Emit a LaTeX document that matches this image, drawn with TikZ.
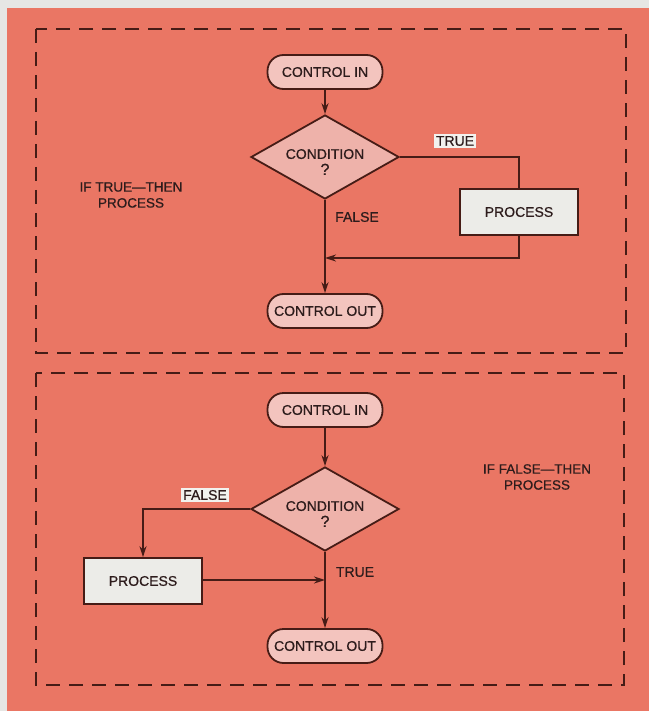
\documentclass[tikz,border=0pt]{standalone}
\usepackage{fontspec}
\setmainfont{Liberation Sans}
\newfontfamily\medfont[FakeBold=0.7]{Liberation Sans}
\usetikzlibrary{shapes.geometric,arrows.meta}
\definecolor{margin}{RGB}{230,230,228}
\definecolor{bgor}{RGB}{234,118,100}
\definecolor{termfill}{RGB}{243,196,190}
\definecolor{diafill}{RGB}{238,178,170}
\definecolor{procfill}{RGB}{236,236,232}
\definecolor{ink}{RGB}{70,28,22}
\definecolor{txt}{RGB}{45,28,28}
\definecolor{lblbg}{RGB}{242,242,238}
\begin{document}
\begin{tikzpicture}[x=1pt,y=-1pt,
  every node/.style={font=\medfont\fontsize{14}{16}\selectfont, text=txt},
  term/.style={draw=ink, line width=1.8pt, fill=termfill, rounded corners=16pt,
    minimum width=115pt, minimum height=34pt, inner sep=0pt},
  cond/.style={draw=ink, line width=1.8pt, fill=diafill, shape=diamond, aspect=1.76,
    minimum width=148pt, minimum height=84pt, inner sep=0pt, align=center},
  condtxt/.style={align=center, inner sep=0pt},
  procbox/.style={draw=ink, line width=1.8pt, fill=procfill,
    minimum width=118pt, minimum height=46pt, inner sep=0pt},
  conn/.style={draw=ink, line width=1.8pt},
  arr/.style={conn, -{Stealth[length=11pt,width=7pt]}},
  frame/.style={draw=ink, line width=1.9pt, dash pattern=on 14pt off 9pt},
  lblw/.style={fill=lblbg, inner sep=2pt},
  lbl/.style={inner sep=1pt},
  side/.style={align=center, inner sep=0pt, font=\medfont\fontsize{13.5}{16}\selectfont}
]
\useasboundingbox (0,0) rectangle (649,711);
\fill[margin] (0,0) rectangle (649,711);
\fill[bgor] (7,8) rectangle (649,711);

% frames
\draw[frame] (36,29) rectangle (626,353);
\draw[frame] (36,373) rectangle (624,685);

% ---- top diagram ----
\node[term] (cin1) at (325,72) {CONTROL IN};
\node[cond] (dia1) at (325,157) {};
\node[condtxt] (c1) at (325,162) {CONDITION\\{\fontsize{16}{16}\selectfont ?}};
\node[procbox] (proc1) at (519,212) {PROCESS};
\node[term] (cout1) at (325,311) {CONTROL OUT};
\coordinate (j1) at (325,258);

\draw[arr] (cin1.south) -- (dia1.north);
\draw[conn] (dia1.east) -| (proc1.north);
\draw[arr] (proc1.south) |- (j1);
\draw[arr] (dia1.south) -- (cout1.north);

\node[lblw] (t1) at (455,141) {TRUE};
\node[lbl] (f1) at (357,217) {FALSE};
\node[side] (s1) at (131,195) {IF TRUE—THEN\\PROCESS};

% ---- bottom diagram ----
\node[term] (cin2) at (325,410) {CONTROL IN};
\node[cond] (dia2) at (325,509) {};
\node[condtxt] (c2) at (325,514) {CONDITION\\{\fontsize{16}{16}\selectfont ?}};
\node[procbox] (proc2) at (143,581) {PROCESS};
\node[term] (cout2) at (325,646) {CONTROL OUT};
\coordinate (j2) at (325,580);

\draw[arr] (cin2.south) -- (dia2.north);
\draw[arr] (dia2.west) -| (proc2.north);
\draw[arr] (proc2.east |- j2) -- (j2);
\draw[arr] (dia2.south) -- (cout2.north);

\node[lblw] (f2) at (205,495) {FALSE};
\node[lbl] (t2) at (355,572) {TRUE};
\node[side] (s2) at (537,477) {IF FALSE—THEN\\PROCESS};
\end{tikzpicture}
\end{document}
